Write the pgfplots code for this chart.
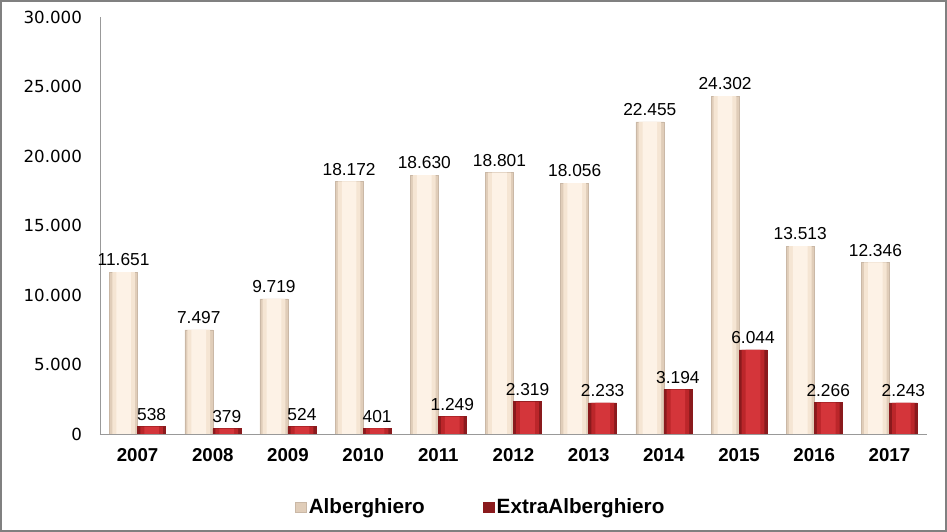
\documentclass[border=0pt]{standalone}
\usepackage{fontspec}
\setmainfont{Liberation Sans}
\newfontfamily\tickfont{DejaVu Sans}
\usepackage{pgfplots}
\pgfplotsset{compat=1.18}
\definecolor{cream}{HTML}{FDF2E6}
\definecolor{creammid}{HTML}{F5E5D3}
\definecolor{creamdark}{HTML}{E0CDB9}
\definecolor{redbar}{HTML}{D4353A}
\definecolor{redmid}{HTML}{BB262A}
\definecolor{reddark}{HTML}{8A1A1D}
\definecolor{framegray}{HTML}{808080}
\pgfplotstableread{
x alb extra
0 11651 538
1 7497 379
2 9719 524
3 18172 401
4 18630 1249
5 18801 2319
6 18056 2233
7 22455 3194
8 24302 6044
9 13513 2266
10 12346 2243
}\datatable
\begin{document}
\begin{tikzpicture}
\path[use as bounding box] (-75pt,-73.5pt) rectangle (635.25pt,325.5pt);
\draw[framegray, line width=1.5pt] (-74.25pt,-72.75pt) rectangle (634.5pt,324.75pt);
\begin{axis}[
  at={(0,0)}, anchor=south west,
  scale only axis,
  width=620.25pt, height=312.75pt,
  ybar,
  xmin=-0.5, xmax=10.5,
  ymin=0, ymax=30000,
  ytick={0,5000,10000,15000,20000,25000,30000},
  xtick=data,
  xticklabels={2007,2008,2009,2010,2011,2012,2013,2014,2015,2016,2017},
  scaled y ticks=false,
  /pgf/number format/.cd, 1000 sep={.}, assume math mode=true,
  /pgfplots/.cd,
  axis x line=bottom, axis y line=left,
  axis line style={-, draw=gray!80},
  major tick length=0pt,
  yticklabel style={font=\tickfont\fontsize{12.5}{14}\selectfont, xshift=-10pt},
  xticklabel style={font=\fontsize{14}{16}\selectfont\bfseries, yshift=-7pt},
  every node near coord/.append style={font=\fontsize{13}{15}\selectfont, black, yshift=1pt},
  legend style={at={(0.461,-0.175)}, anchor=center, draw=none, fill=none,
    legend columns=-1, font=\fontsize{15.5}{17}\selectfont\bfseries,
    /tikz/every even column/.append style={column sep=42pt}},
  legend image code/.code={\draw[#1] (0pt,-3.8pt) rectangle (7.6pt,3.8pt);},
]
% base layers with labels
\addplot[draw=creamdark!90!black, fill=creamdark, bar width=21pt, bar shift=-10.5pt, nodes near coords]
  table[x=x, y=alb] {\datatable};
\addplot[draw=reddark, fill=reddark, bar width=21pt, bar shift=10.5pt, nodes near coords]
  table[x=x, y=extra] {\datatable};
\legend{Alberghiero, ExtraAlberghiero}
% shading layers
\addplot[forget plot, draw=none, fill=creammid, bar width=17pt, bar shift=-10.5pt]
  table[x=x, y=alb] {\datatable};
\addplot[forget plot, draw=none, fill=cream, bar width=11pt, bar shift=-10.5pt]
  table[x=x, y=alb] {\datatable};
\addplot[forget plot, draw=none, fill=redmid, bar width=17pt, bar shift=10.5pt]
  table[x=x, y=extra] {\datatable};
\addplot[forget plot, draw=none, fill=redbar, bar width=11pt, bar shift=10.5pt]
  table[x=x, y=extra] {\datatable};
\end{axis}
\end{tikzpicture}
\end{document}
